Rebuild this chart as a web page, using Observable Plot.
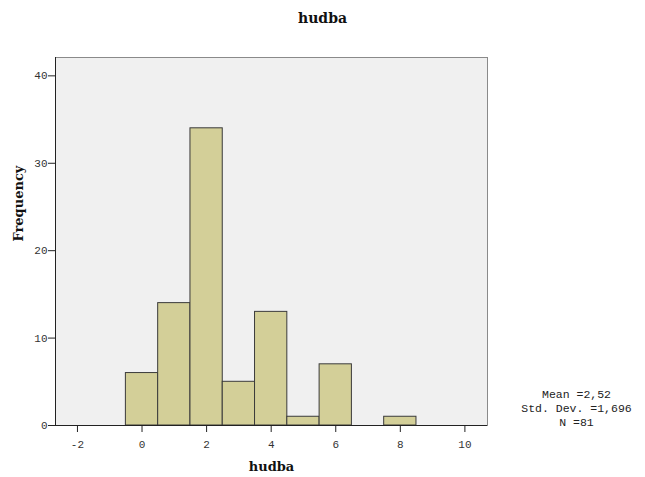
<!DOCTYPE html>
<html><head><meta charset="utf-8">
<script src="https://cdn.jsdelivr.net/npm/d3@7"></script>
<script src="https://cdn.jsdelivr.net/npm/@observablehq/plot@0.6"></script>
<style>
body{margin:0;background:#fff;}
#title{height:40px;width:645px;text-align:center;font-family:"DejaVu Serif",serif;font-weight:bold;font-size:14px;line-height:36px;color:#111;}
</style>
</head><body>
<div id="title">hudba</div>
<div id="chart"></div>
<script>
const values = [0, 1, 2, 3, 4, 5, 6, 7, 8];
const counts = [6, 14, 34, 5, 13, 1, 7, 0, 1];
const xTicks = [-2, 0, 2, 4, 6, 8, 10];
const yTicks = [0, 10, 20, 30, 40];
const statsLines = ["Mean =2,52", "Std. Dev. =1,696", "N =81"];

const bins = values.map((v, i) => ({x1: v - 0.5, x2: v + 0.5, n: counts[i]})).filter(d => d.n > 0);

const chart = Plot.plot({
  width: 645,
  height: 437,
  marginLeft: 55,
  marginRight: 158,
  marginTop: 17,
  marginBottom: 52,
  style: {background: "#fff", color: "#222"},
  x: {domain: [-2.68, 10.7]},
  y: {domain: [0, 42.1]},
  marks: [
    Plot.frame({fill: "#f0f0f0", stroke: "#8a8a8a"}),
    Plot.rectY(bins, {x1: "x1", x2: "x2", y: "n", fill: "#d3cf98", stroke: "#3a3a3a", strokeWidth: 1}),
    Plot.ruleY([0], {stroke: "#222"}),
    Plot.ruleX([-2.68], {stroke: "#222"}),
    Plot.axisX({ticks: xTicks, tickSize: 7, tickPadding: 8, tickFormat: d => d < 0 ? "-" + Math.abs(d) : String(d),
      fontFamily: "Liberation Mono, monospace", fontSize: 11, label: null, stroke: "#222", fill: "#333"}),
    Plot.axisY({ticks: yTicks, tickSize: 7, tickPadding: 1, fontFamily: "Liberation Mono, monospace", fontSize: 11, label: null, stroke: "#222", fill: "#333"}),
    Plot.text(["hudba"], {frameAnchor: "bottom", dy: 45, fontFamily: "DejaVu Serif, serif", fontWeight: "bold", fontSize: 13, fill: "#111"}),
    Plot.text(["Frequency"], {frameAnchor: "left", dx: -37, rotate: -90, fontFamily: "DejaVu Serif, serif", fontWeight: "bold", fontSize: 13, fill: "#111"}),
    Plot.text([statsLines.join("\n")], {frameAnchor: "bottom-right", dx: 89, dy: 0, lineAnchor: "bottom", textAnchor: "middle", lineHeight: 1.18, fontFamily: "Liberation Mono, monospace", fontSize: 11.5, fill: "#222"})
  ]
});
document.getElementById("chart").appendChild(chart);
</script>
</body></html>
